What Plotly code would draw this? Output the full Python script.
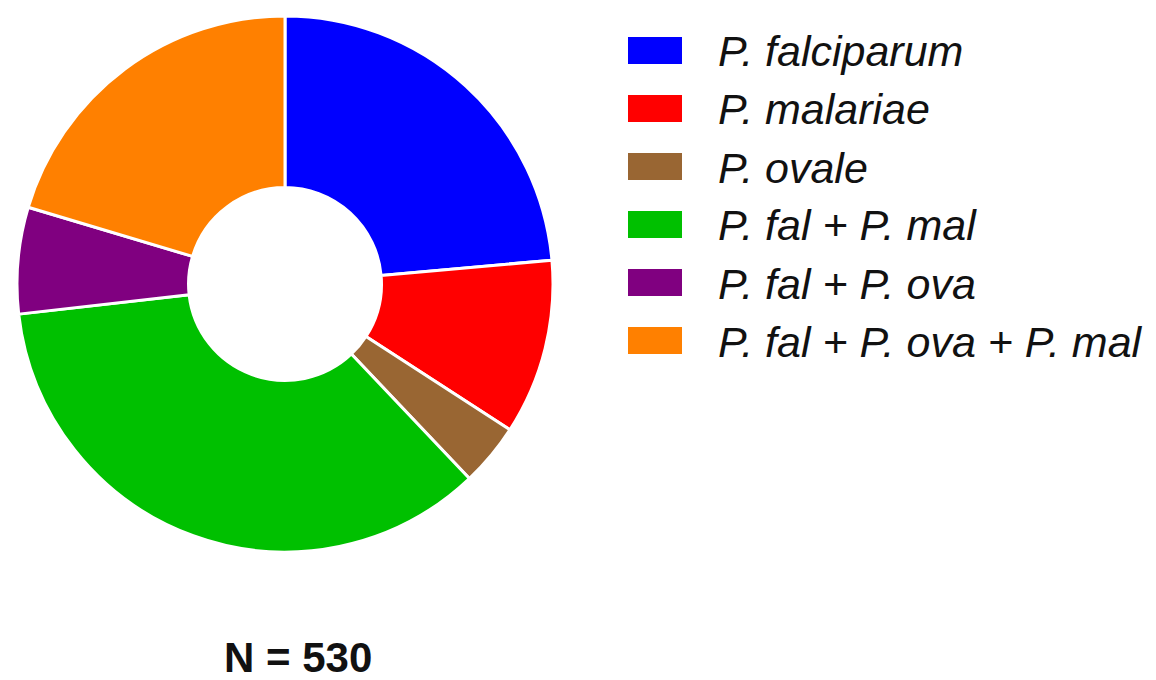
import plotly.graph_objects as go

categories = ["P. falciparum", "P. malariae", "P. ovale", "P. fal + P. mal",
              "P. fal + P. ova", "P. fal + P. ova + P. mal"]
counts = [125, 56, 20, 187, 34, 108]
colors = ["#0000FF", "#FF0000", "#996633", "#00C000", "#800080", "#FF8000"]
total_label = "N = 530"

W, H = 1156, 680
cx, cy, R = 285, 284, 268

fig = go.Figure(go.Pie(
    labels=categories, values=counts, sort=False, direction="clockwise",
    rotation=0, hole=0.36, textinfo="none", hoverinfo="label+value",
    marker=dict(colors=colors, line=dict(color="white", width=3)),
    domain=dict(x=[(cx - R) / W, (cx + R) / W], y=[1 - (cy + R) / H, 1 - (cy - R) / H]),
    showlegend=False,
))

FONT = "Liberation Sans, Arial, sans-serif"
shapes, annotations = [], []
row0, step = 50.5, 58
for i, (lab, col) in enumerate(zip(categories, colors)):
    yc = row0 + i * step
    shapes.append(dict(type="rect", xref="paper", yref="paper",
                       x0=628 / W, x1=682 / W, y0=1 - (yc + 13.5) / H, y1=1 - (yc - 13.5) / H,
                       fillcolor=col, line=dict(width=0)))
    annotations.append(dict(text=f"<i>{lab}</i>", xref="paper", yref="paper",
                            x=716 / W, y=1 - (yc + 1) / H, xanchor="left", yanchor="middle",
                            showarrow=False, font=dict(family=FONT, size=43, color="#111111")))

annotations.append(dict(text=f"<b>{total_label}</b>", xref="paper", yref="paper",
                        x=298 / W, y=1 - 657 / H, xanchor="center", yanchor="middle",
                        showarrow=False, font=dict(family=FONT, size=42, color="#111111")))

fig.update_layout(width=W, height=H, margin=dict(l=0, r=0, t=0, b=0),
                  paper_bgcolor="white", plot_bgcolor="white",
                  shapes=shapes, annotations=annotations)
fig.write_html("out.html", config={"displayModeBar": False},
               post_script="document.body.style.margin='0';")
